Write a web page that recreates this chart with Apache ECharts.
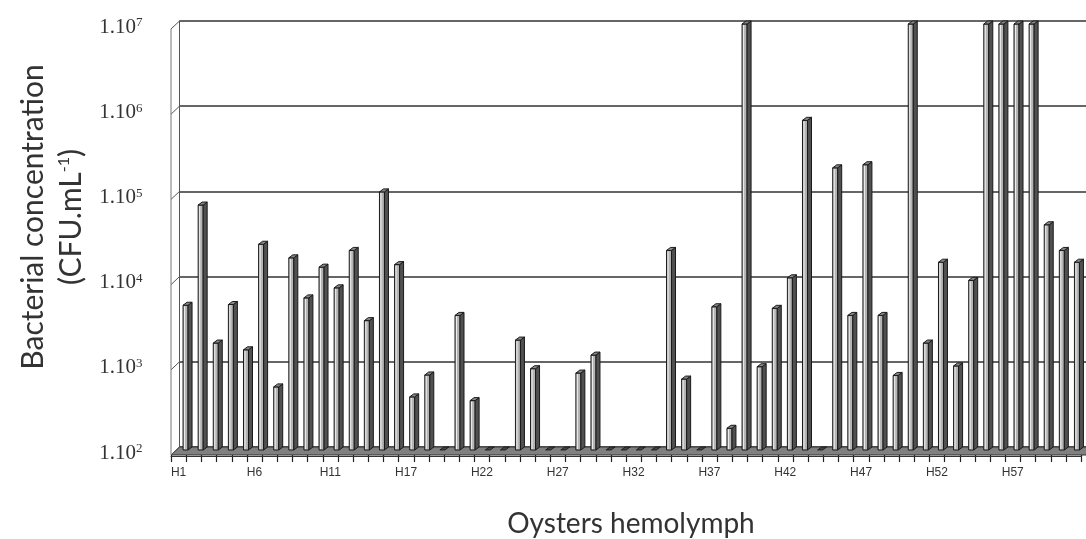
<!DOCTYPE html>
<html>
<head>
<meta charset="utf-8">
<script src="https://cdn.jsdelivr.net/npm/echarts@6/dist/echarts.min.js"></script>
<style>
  html, body { margin: 0; padding: 0; background: #fff; }
  #chart { width: 1086px; height: 539px; }
</style>
</head>
<body>
<div id="chart"></div>
<script>
// oysters H1..H61 (no H16 in the series)
var hemolymph = ['H1','H2','H3','H4','H5','H6','H7','H8','H9','H10','H11','H12','H13','H14','H15',
  'H17','H18','H19','H20','H21','H22','H23','H24','H25','H26','H27','H28','H29','H30','H31',
  'H32','H33','H34','H35','H36','H37','H38','H39','H40','H41','H42','H43','H44','H45','H46',
  'H47','H48','H49','H50','H51','H52','H53','H54','H55','H56','H57','H58','H59','H60','H61'];

// CFU/mL, 0 = nothing counted
var concentration = [5000, 75000, 1800, 5100, 1500, 26000, 550, 18000, 6100, 14000, 8000, 22000, 3300, 107000, 15000,
  420, 760, 0, 3800, 380, 0, 0, 1950, 900, 0, 0, 800, 1300, 0, 0,
  0, 0, 22000, 680, 0, 4800, 180, 10000000, 950, 4600, 10500, 740000, 0, 205000, 3800,
  223000, 3800, 750, 10000000, 1800, 16000, 970, 9800, 10000000, 10000000, 10000000, 10000000, 44000, 22000, 16000];

var yMin = 100, yMax = 10000000;

var chart = echarts.init(document.getElementById('chart'));

// excel-like 3D column: front face, dark side face, top cap
function renderBar(params, api) {
  var i = params.dataIndex;
  var v = concentration[i];
  var base = api.coord([i, yMin]);
  var cx = base[0] + 1, by = base[1] + 3;
  var w = 5, d = 4, h = 3;
  if (!v) {
    return {
      type: 'polygon',
      shape: { points: [[cx - w, by], [cx, by], [cx + d, by - h], [cx - w + d, by - h]] },
      style: { fill: '#444', stroke: '#111', lineWidth: 0.8 }
    };
  }
  var top = api.coord([i, v])[1] + h;
  return {
    type: 'group',
    children: [
      { type: 'rect', shape: { x: cx - w, y: top, width: w, height: by - top },
        style: { fill: '#b4b4b4', stroke: '#1a1a1a', lineWidth: 1 } },
      { type: 'line', shape: { x1: cx - w + 1.5, y1: top + 1, x2: cx - w + 1.5, y2: by - 1 },
        style: { stroke: '#eee', lineWidth: 1 } },
      { type: 'polygon', shape: { points: [[cx, top], [cx + d, top - h], [cx + d, by - h], [cx, by]] },
        style: { fill: '#505050', stroke: '#1a1a1a', lineWidth: 1 } },
      { type: 'polygon', shape: { points: [[cx - w, top], [cx, top], [cx + d, top - h], [cx - w + d, top - h]] },
        style: { fill: '#888', stroke: '#1a1a1a', lineWidth: 1 } }
    ]
  };
}

var option = {
  animation: false,
  backgroundColor: '#fff',
  grid: [
    { left: 179.5, right: -3, top: 21, bottom: 92 },
    { left: 171, right: 5, top: 455, height: 1 }
  ],
  xAxis: [
    { gridIndex: 0, type: 'category', data: hemolymph, show: false },
    {
      gridIndex: 1, type: 'category', data: hemolymph, z: 4,
      axisLine: { lineStyle: { color: '#333', width: 1 } },
      axisTick: { show: false },
      axisLabel: { interval: 4, fontFamily: 'Liberation Sans', fontSize: 12, color: '#333', margin: 11 }
    }
  ],
  yAxis: [
    {
      gridIndex: 0, type: 'log', logBase: 10, min: yMin, max: yMax,
      axisLine: { show: true, lineStyle: { color: '#555' } },
      axisTick: { show: false },
      splitLine: { lineStyle: { color: '#333', width: 1.5 } },
      axisLabel: {
        margin: 37,
        fontFamily: 'Liberation Serif', fontSize: 21, color: '#333',
        padding: [12, 0, 0, 0],
        formatter: function (v) {
          return '1.10{s|' + Math.round(Math.log10(v)) + '}';
        },
        rich: { s: { fontFamily: 'Liberation Serif', fontSize: 13, color: '#333', verticalAlign: 'top', padding: [0, 0, 8, 0] } }
      }
    },
    { gridIndex: 1, type: 'value', show: false }
  ],
  title: {
    text: 'Oysters hemolymph',
    left: 626, top: 505,
    textAlign: 'center',
    textStyle: { fontFamily: 'Lato', fontSize: 28, fontWeight: 'normal', color: '#333' }
  },
  series: [{
    type: 'custom',
    xAxisIndex: 0, yAxisIndex: 0,
    renderItem: renderBar,
    data: hemolymph.map(function (c, i) { return [i, concentration[i]]; }),
    encode: { x: 0, y: 1 },
    z: 5
  }]
};
chart.setOption(option);

// side wall, floor, front ticks and axis title drawn around the plot
var backLeft = 179.5, frontLeft = 171;
var baseY = chart.convertToPixel({ yAxisIndex: 0 }, yMin);
var frontY = 455;
var drop = frontY - baseY;
var els = [];
els.push({
  type: 'polygon', z: 1,
  shape: { points: [[backLeft, baseY], [1090, baseY], [1090, frontY], [frontLeft, frontY]] },
  style: { fill: '#808080', stroke: '#333', lineWidth: 1 }
});
for (var p = 2; p <= 7; p++) {
  var y = chart.convertToPixel({ yAxisIndex: 0 }, Math.pow(10, p));
  els.push({ type: 'line', z: 3, shape: { x1: frontLeft, y1: y + drop, x2: backLeft, y2: y },
    style: { stroke: '#555', lineWidth: 1 } });
}
var topY = chart.convertToPixel({ yAxisIndex: 0 }, yMax);
els.push({ type: 'line', z: 3, shape: { x1: frontLeft, y1: topY + drop, x2: frontLeft, y2: frontY },
  style: { stroke: '#777', lineWidth: 1 } });
// category boundaries on the front edge of the floor
var c0 = chart.convertToPixel({ xAxisIndex: 1 }, hemolymph[0]);
var band = chart.convertToPixel({ xAxisIndex: 1 }, hemolymph[1]) - c0;
if (!isFinite(c0) || !isFinite(band)) { c0 = frontLeft + 7.6; band = 15.2; }
for (var k = 0; k <= hemolymph.length; k++) {
  var tx = Math.round(c0 - band / 2 + k * band) + 0.5;
  els.push({ type: 'line', z: 3, shape: { x1: tx, y1: frontY, x2: tx, y2: frontY + 7 },
    style: { stroke: '#222', lineWidth: 1.2 } });
}
els.push({
  type: 'text', z: 3, x: 52, y: 217, rotation: Math.PI / 2,
  style: {
    text: 'Bacterial concentration\n(CFU.mL{s|-1})',
    fontFamily: 'Lato', fontSize: 30, fill: '#333',
    align: 'center', verticalAlign: 'middle', lineHeight: 38,
    rich: { s: { fontFamily: 'Lato', fontSize: 16, fill: '#333', padding: [0, 0, 15, 0] } }
  }
});
chart.setOption({ graphic: { elements: els } });
</script>
</body>
</html>
